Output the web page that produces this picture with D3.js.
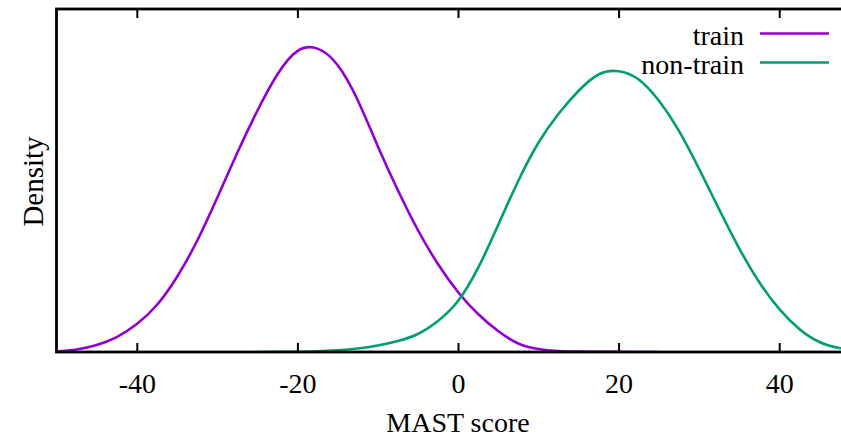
<!DOCTYPE html>
<html>
<head>
<meta charset="utf-8">
<script src="https://cdn.jsdelivr.net/npm/d3@7"></script>
<style>
  html, body { margin: 0; padding: 0; background: #fff; }
  svg { display: block; }
  text { font-family: "Liberation Serif", "Times New Roman", serif; fill: #000; }
</style>
</head>
<body>
<svg id="chart" width="841" height="438"></svg>
<script>
// ---- data (x = MAST score, y = density) ----
const seriesNames = ["train", "non-train"];
const seriesColors = ["#9400d3", "#009e73"];

const trainX = [-50, -47.5, -45, -42.5, -40, -37.5, -35, -32.5, -30, -27.5, -25, -22.5, -20, -17.5,
                -15, -12.5, -10, -7.5, -5, -2.5, 0, 2.5, 5, 7.5, 10, 12.5, 15, 17.5, 20, 22.5, 25];
const trainY = [0.00006, 0.00032, 0.0009, 0.00192, 0.00359, 0.00603, 0.00962, 0.01424, 0.01976, 0.02553, 0.03092, 0.03560, 0.03860, 0.03892,
                0.03682, 0.03233, 0.02643, 0.02078, 0.01565, 0.01129, 0.0077, 0.00487, 0.00269, 0.00109, 0.00038, 0.00013, 0.00005, 0.00002, 0.00001, 0, 0];

const nonTrainX = [-25, -22.5, -20, -17.5, -15, -12.5, -10, -7.5, -5, -2.5, 0, 2.5, 5, 7.5, 10, 12.5, 15, 17.5, 20,
                   22.5, 25, 27.5, 30, 32.5, 35, 37.5, 40, 42.5, 45, 47.5, 50];
const nonTrainY = [0, 0.00001, 0.00004, 0.0001, 0.00023, 0.00045, 0.00083, 0.00141, 0.00231, 0.00398, 0.00654, 0.01078, 0.01629, 0.02194, 0.02681, 0.03053, 0.03348, 0.03560, 0.03602,
                   0.03496, 0.03226, 0.02841, 0.02354, 0.01834, 0.01334, 0.00898, 0.00552, 0.00295, 0.00128, 0.00051, 0.00019];

const xTicks = [-40, -20, 0, 20, 40];
const xDomain = [-50, 50];
const yDomain = [0, 0.044];
const xLabel = "MAST score";
const yLabel = "Density";

// ---- layout ----
(function () {
const svg = d3.select("#chart");
const pLeft = 56.5, pRight = 859.5, pTop = 9, pBottom = 352;
const fontSize = 28;

const x = d3.scaleLinear().domain(xDomain).range([pLeft, pRight]);
const y = d3.scaleLinear().domain(yDomain).range([pBottom, pTop]);

const series = [
  { name: seriesNames[0], color: seriesColors[0], pts: trainX.map((v, i) => [v, trainY[i]]) },
  { name: seriesNames[1], color: seriesColors[1], pts: nonTrainX.map((v, i) => [v, nonTrainY[i]]) }
];

svg.append("defs").append("clipPath").attr("id", "clip")
  .append("rect").attr("x", pLeft).attr("y", pTop).attr("width", pRight - pLeft).attr("height", pBottom - pTop);

const line = d3.line()
  .x(d => x(d[0]))
  .y(d => y(d[1]))
  .curve(d3.curveNatural);

svg.append("g").attr("clip-path", "url(#clip)")
  .selectAll("path").data(series).join("path")
  .attr("d", d => line(d.pts))
  .attr("fill", "none")
  .attr("stroke", d => d.color)
  .attr("stroke-width", 2.6)
  .attr("stroke-linejoin", "round");

// axes (ticks inward)
const bottomAxis = d3.axisBottom(x).tickValues(xTicks).tickSize(-9).tickPadding(0);
const gB = svg.append("g").attr("transform", `translate(0,${pBottom})`).call(bottomAxis);
gB.select(".domain").remove();
gB.selectAll(".tick line").attr("stroke", "#000").attr("stroke-width", 2);
gB.selectAll(".tick text")
  .attr("y", 41).attr("dy", null)
  .style("font-size", fontSize + "px")
  .style("font-family", '"Liberation Serif", serif')
  .text(d => d < 0 ? "-" + Math.abs(d) : String(d));

const topAxis = d3.axisTop(x).tickValues(xTicks).tickSize(-9).tickFormat("");
const gT = svg.append("g").attr("transform", `translate(0,${pTop})`).call(topAxis);
gT.select(".domain").remove();
gT.selectAll(".tick line").attr("stroke", "#000").attr("stroke-width", 2);

// border
svg.append("rect")
  .attr("x", pLeft).attr("y", pTop).attr("width", pRight - pLeft).attr("height", pBottom - pTop)
  .attr("fill", "none").attr("stroke", "#000").attr("stroke-width", 2.8);

// axis titles
svg.append("text")
  .attr("x", 458).attr("y", 432)
  .attr("text-anchor", "middle")
  .style("font-size", fontSize + "px")
  .text(xLabel);

svg.append("text")
  .attr("transform", `translate(43,181.5) rotate(-90)`)
  .attr("text-anchor", "middle")
  .style("font-size", "29px")
  .text(yLabel);

// legend
const legend = svg.append("g");
series.forEach((s, i) => {
  const ly = 33.5 + i * 29;
  legend.append("text")
    .attr("x", 744).attr("y", ly + 11)
    .attr("text-anchor", "end")
    .style("font-size", fontSize + "px")
    .text(s.name);
  legend.append("line")
    .attr("x1", 760).attr("x2", 829)
    .attr("y1", ly).attr("y2", ly)
    .attr("stroke", s.color).attr("stroke-width", 2.6);
});
})();
</script>
</body>
</html>
